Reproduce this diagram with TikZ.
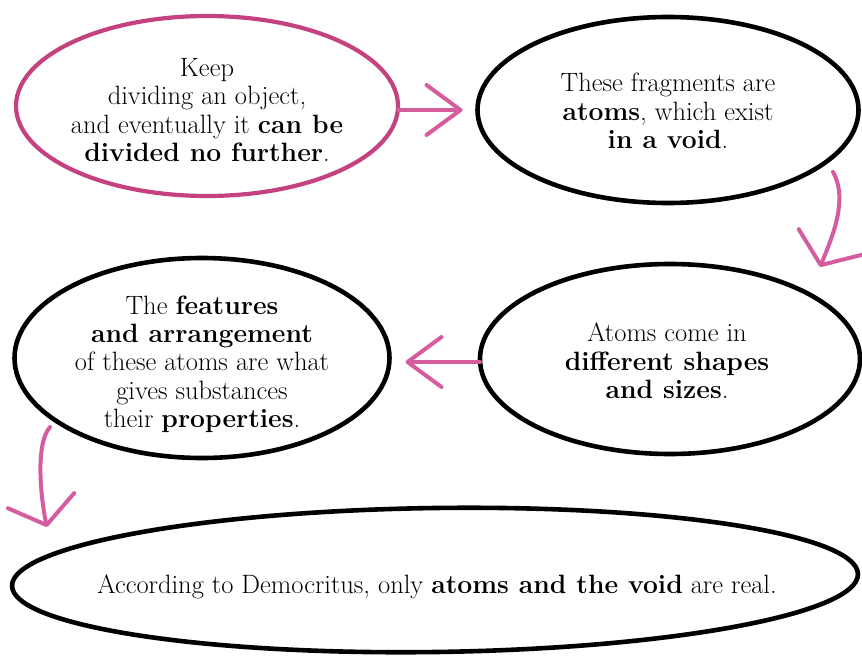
\documentclass[tikz,border=0pt]{standalone}
\usepackage{fontspec}
\usetikzlibrary{shapes.geometric,arrows.meta}
\definecolor{pinkline}{RGB}{196,66,128}
\definecolor{pinkarrow}{RGB}{214,92,160}
\tikzset{
  bubble/.style={ellipse,draw=black,line width=4.6pt,inner sep=0pt,outer sep=0pt},
  pinkbubble/.style={bubble,draw=pinkline,line width=4.2pt},
  txt/.style={align=center,inner sep=0pt,font=\fontsize{26.5}{28.3}\selectfont},
  flow/.style={draw=pinkarrow,line width=4pt,line cap=round,
    -{Straight Barb[length=34pt,width=50pt,round]}},
  flowwide/.style={draw=pinkarrow,line width=4pt,line cap=round,
    -{Straight Barb[length=25pt,width=68pt,round]}}
}
\begin{document}
\begin{tikzpicture}[x=1pt,y=-1pt]
\useasboundingbox (0,0) rectangle (862,659);
% ellipses
\node[pinkbubble,minimum width=382pt,minimum height=180pt] (e1) at (207,106) {};
\node[bubble,minimum width=381pt,minimum height=186pt] (e2) at (668,110) {};
\node[bubble,minimum width=380pt,minimum height=190pt] (e3) at (670,359) {};
\node[bubble,minimum width=375pt,minimum height=200pt] (e4) at (202,358) {};
\node[bubble,minimum width=846pt,minimum height=144pt,rotate=0.8] (e5) at (435,580) {};
% texts
\node[txt] (t1) at (207,110) {Keep\\dividing an object,\\and eventually it \textbf{can be}\\\textbf{divided no further}.};
\node[txt] (t2) at (668,111) {These fragments are\\\textbf{atoms}, which exist\\\textbf{in a void}.};
\node[txt] (t3) at (667,361) {Atoms come in\\\textbf{different shapes}\\\textbf{and sizes}.};
\node[txt] (t4) at (202,364) {The \textbf{features}\\\textbf{and arrangement}\\of these atoms are what\\gives substances\\their \textbf{properties}.};
\node[txt,anchor=base] (t5) at (437,593) {According to Democritus, only \textbf{atoms and the void} are real.};
% connectors
\coordinate (a2s) at (833,172);
\coordinate (a2e) at (820,267);
\coordinate (a4s) at (50,427);
\coordinate (a4e) at (47,527);
\draw[flow] ([yshift=-4pt]e1.east) -- ([xshift=-15pt]e2.west);
\draw[flowwide] (a2s) .. controls (849,200) and (831,240) .. (a2e);
\draw[flowwide] (a4s) .. controls (34,445) and (42,505) .. (a4e);
\draw[flow] ([yshift=-3pt]e3.west) -- ([xshift=16pt,yshift=-4pt]e4.east);
\end{tikzpicture}
\end{document}
